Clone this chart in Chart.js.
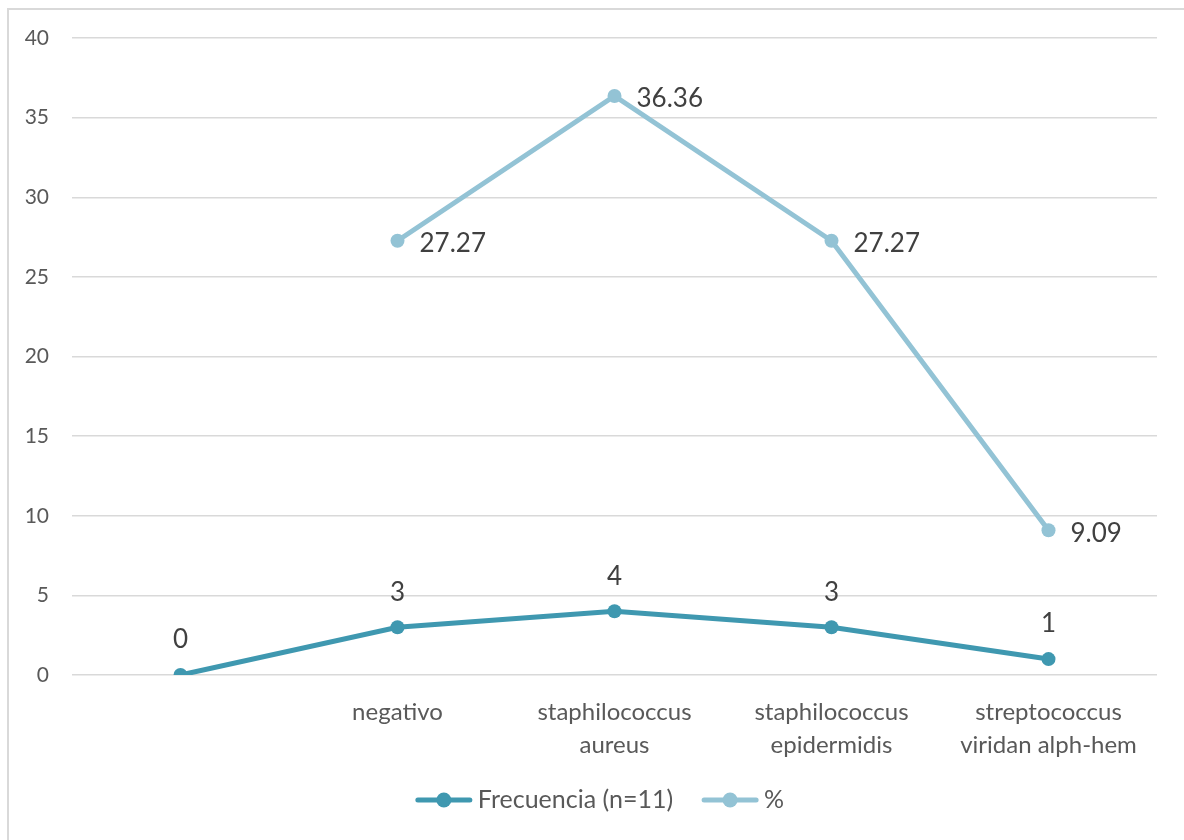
<!DOCTYPE html>
<html>
<head>
<meta charset="utf-8">
<script src="https://cdn.jsdelivr.net/npm/chart.js@4.4.1/dist/chart.umd.min.js"></script>
<style>
  html, body { margin: 0; padding: 0; background: #fff; }
  #marco { position: absolute; left: 7px; top: 8px; width: 1190px; height: 850px; border: 2px solid #d9d9d9; box-sizing: border-box; }
  #wrap { position: absolute; left: 0; top: 0; width: 1184px; height: 840px; }
</style>
</head>
<body>
<div id="marco"></div>
<div id="wrap"><canvas id="grafico"></canvas></div>
<script>
// Datos del gráfico
const categorias = ['', 'negativo', ['staphilococcus', 'aureus'], ['staphilococcus', 'epidermidis'], ['streptococcus', 'viridan alph-hem']];
const frecuencia = [0, 3, 4, 3, 1];
const porcentaje = [null, 27.27, 36.36, 27.27, 9.09];
const ticksY = [0, 5, 10, 15, 20, 25, 30, 35, 40];

const colorFrec = '#3f98b0';
const colorPorc = '#93c3d5';
const fuente = 'Lato, "Open Sans", sans-serif';

// Plugin sencillo para etiquetas de datos
const etiquetas = {
    id: 'etiquetas',
    afterDatasetsDraw(chart) {
        const ctx = chart.ctx;
        ctx.save();
        ctx.font = '26px ' + fuente;
        ctx.fillStyle = '#404040';
        chart.data.datasets.forEach((ds, i) => {
            const meta = chart.getDatasetMeta(i);
            meta.data.forEach((pt, j) => {
                const v = ds.data[j];
                if (v === null || v === undefined) return;
                ctx.textBaseline = 'middle';
                if (i === 0) {
                    ctx.textAlign = 'center';
                    ctx.fillText(String(v), pt.x, pt.y - 35);
                } else {
                    ctx.textAlign = 'left';
                    ctx.fillText(v.toFixed(2), pt.x + 22, pt.y + 3);
                }
            });
        });
        ctx.restore();
    }
};

// Leyenda dibujada a mano (línea con punto + texto)
const leyenda = {
    id: 'leyenda',
    afterDraw(chart) {
        const ctx = chart.ctx;
        const y = chart.height - 40;
        ctx.save();
        ctx.font = '25px ' + fuente;
        ctx.textBaseline = 'middle';
        ctx.textAlign = 'left';
        const items = chart.data.datasets.map(ds => ({ texto: ds.label, color: ds.borderColor, w: ctx.measureText(ds.label).width }));
        const total = items.reduce((s, it) => s + 56 + 6 + it.w, 0) + 29 * (items.length - 1);
        let x = chart.width / 2 + 8 - total / 2;
        items.forEach(it => {
            ctx.strokeStyle = it.color;
            ctx.lineWidth = 5;
            ctx.lineCap = 'round';
            ctx.beginPath();
            ctx.moveTo(x + 2, y); ctx.lineTo(x + 54, y);
            ctx.stroke();
            ctx.fillStyle = it.color;
            ctx.beginPath();
            ctx.arc(x + 28, y, 7.5, 0, Math.PI * 2);
            ctx.fill();
            ctx.fillStyle = '#595959';
            ctx.fillText(it.texto, x + 62, y);
            x += 56 + 6 + it.w + 29;
        });
        ctx.restore();
    }
};

new Chart(document.getElementById('grafico'), {
    type: 'line',
    data: {
        labels: categorias,
        datasets: [{
            label: 'Frecuencia (n=11)',
            data: frecuencia,
            borderColor: colorFrec,
            backgroundColor: colorFrec,
            borderWidth: 5,
            pointRadius: 7,
            pointHoverRadius: 7,
            pointBackgroundColor: colorFrec,
            pointBorderWidth: 0
        }, {
            label: '%',
            data: porcentaje,
            borderColor: colorPorc,
            backgroundColor: colorPorc,
            borderWidth: 5,
            pointRadius: 7,
            pointHoverRadius: 7,
            pointBackgroundColor: colorPorc,
            pointBorderWidth: 0
        }]
    },
    options: {
        responsive: true,
        maintainAspectRatio: false,
        animation: false,
        layout: { padding: { left: 0, right: 27, top: 38, bottom: 63 } },
        plugins: {
            tooltip: { enabled: false },
            legend: { display: false }
        },
        scales: {
            x: {
                offset: true,
                grid: { display: false, drawTicks: false },
                border: { display: false },
                ticks: {
                    color: '#595959',
                    font: { family: fuente, size: 24, lineHeight: 1.38 },
                    padding: 21,
                    maxRotation: 0,
                    autoSkip: false
                },
                afterFit(scale) { scale.height = 102; }
            },
            y: {
                min: 0,
                max: 40,
                afterBuildTicks(scale) { scale.ticks = ticksY.map(v => ({ value: v })); },
                grid: { color: '#d9d9d9', lineWidth: 1.5, drawTicks: false },
                border: { display: false },
                ticks: {
                    color: '#595959',
                    font: { family: fuente, size: 21 },
                    padding: 23
                },
                afterFit(scale) { scale.width = 72; }
            }
        }
    },
    plugins: [etiquetas, leyenda]
});
</script>
</body>
</html>
